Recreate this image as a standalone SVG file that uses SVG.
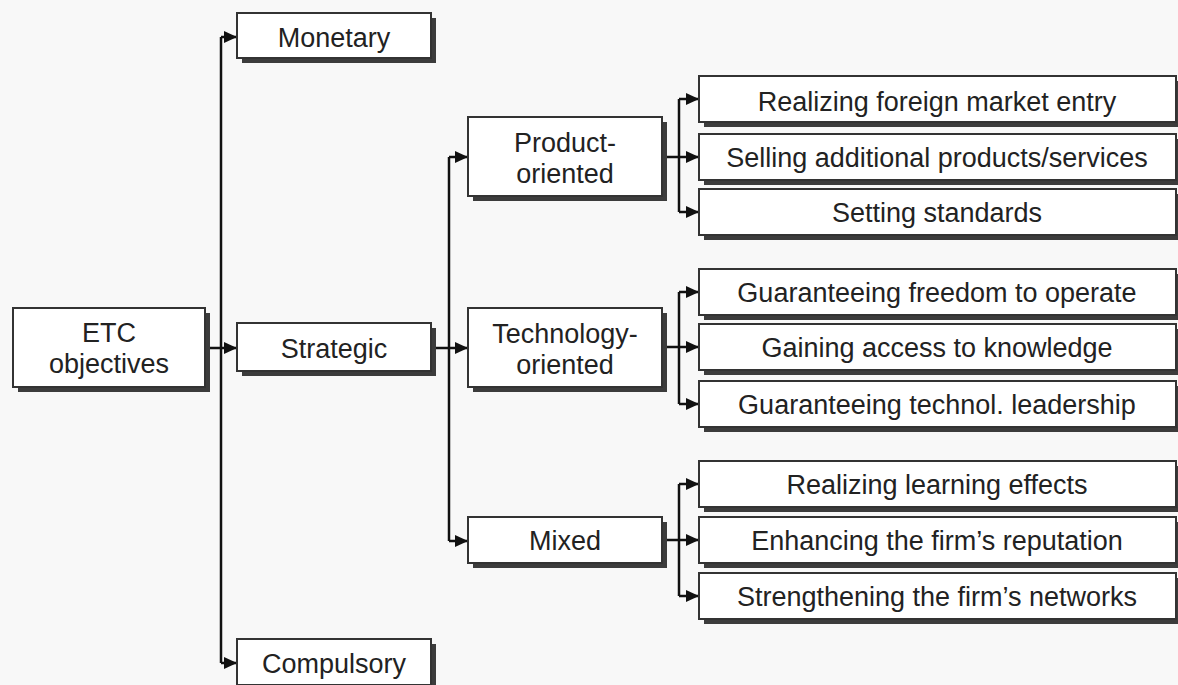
<svg xmlns="http://www.w3.org/2000/svg" width="1178" height="685" viewBox="0 0 1178 685">
<defs>
<marker id="ah" markerUnits="userSpaceOnUse" markerWidth="13" markerHeight="12" refX="13" refY="6" orient="auto">
<path d="M0,0 L13,6 L0,12 z" fill="#111"/>
</marker>
<style>
.bg{fill:#f8f8f8}
.sh{fill:#3c3c3c}
.bx{fill:#fff;stroke:#333;stroke-width:2}
.t{font-family:"Liberation Sans",Arial,sans-serif;font-size:27px;fill:#222;text-anchor:middle}
.c{fill:none;stroke:#111;stroke-width:2.5;stroke-linejoin:round}
.a{fill:none;stroke:#111;stroke-width:2.5;marker-end:url(#ah)}
</style>
</defs>
<rect class="bg" x="0" y="0" width="1178" height="685"/>

<g id="connectors">
<path class="c" d="M221,37 L221,663"/>
<line class="a" x1="205" y1="348" x2="237" y2="348"/>
<line class="a" x1="221" y1="37" x2="237" y2="37"/>
<line class="a" x1="221" y1="663" x2="237" y2="663"/>

<path class="c" d="M449,157 L449,541"/>
<line class="a" x1="431" y1="348" x2="468" y2="348"/>
<line class="a" x1="449" y1="157" x2="468" y2="157"/>
<line class="a" x1="449" y1="541" x2="468" y2="541"/>

<path class="c" d="M679,99 L679,212"/>
<line class="a" x1="662" y1="157" x2="699" y2="157"/>
<line class="a" x1="679" y1="99" x2="699" y2="99"/>
<line class="a" x1="679" y1="212" x2="699" y2="212"/>

<path class="c" d="M679,292 L679,404"/>
<line class="a" x1="662" y1="347" x2="699" y2="347"/>
<line class="a" x1="679" y1="292" x2="699" y2="292"/>
<line class="a" x1="679" y1="404" x2="699" y2="404"/>

<path class="c" d="M679,484 L679,596"/>
<line class="a" x1="662" y1="540" x2="699" y2="540"/>
<line class="a" x1="679" y1="484" x2="699" y2="484"/>
<line class="a" x1="679" y1="596" x2="699" y2="596"/>
</g>

<g id="etc">
<rect class="sh" x="18" y="313" width="192" height="79"/>
<rect class="bx" x="13" y="308" width="192" height="79"/>
<text class="t" x="109" y="342">ETC</text>
<text class="t" x="109" y="373">objectives</text>
</g>

<g id="monetary">
<rect class="sh" x="242" y="18" width="194" height="45"/>
<rect class="bx" x="237" y="13" width="194" height="45"/>
<text class="t" x="334" y="47">Monetary</text>
</g>

<g id="strategic">
<rect class="sh" x="242" y="328" width="194" height="48"/>
<rect class="bx" x="237" y="323" width="194" height="48"/>
<text class="t" x="334" y="358">Strategic</text>
</g>

<g id="compulsory">
<rect class="sh" x="242" y="644" width="194" height="46"/>
<rect class="bx" x="237" y="639" width="194" height="46"/>
<text class="t" x="334" y="673">Compulsory</text>
</g>

<g id="product">
<rect class="sh" x="473" y="122" width="194" height="79"/>
<rect class="bx" x="468" y="117" width="194" height="79"/>
<text class="t" x="565" y="152">Product-</text>
<text class="t" x="565" y="183">oriented</text>
</g>

<g id="technology">
<rect class="sh" x="473" y="313" width="194" height="79"/>
<rect class="bx" x="468" y="308" width="194" height="79"/>
<text class="t" x="565" y="343">Technology-</text>
<text class="t" x="565" y="374">oriented</text>
</g>

<g id="mixed">
<rect class="sh" x="473" y="522" width="194" height="46"/>
<rect class="bx" x="468" y="517" width="194" height="46"/>
<text class="t" x="565" y="550">Mixed</text>
</g>

<g id="foreign">
<rect class="sh" x="704" y="81" width="477" height="46"/>
<rect class="bx" x="699" y="76" width="477" height="46"/>
<text class="t" x="937" y="111">Realizing foreign market entry</text>
</g>
<g id="selling">
<rect class="sh" x="704" y="139" width="477" height="46"/>
<rect class="bx" x="699" y="134" width="477" height="46"/>
<text class="t" x="937" y="167">Selling additional products/services</text>
</g>
<g id="standards">
<rect class="sh" x="704" y="194" width="477" height="46"/>
<rect class="bx" x="699" y="189" width="477" height="46"/>
<text class="t" x="937" y="222">Setting standards</text>
</g>

<g id="freedom">
<rect class="sh" x="704" y="274" width="477" height="46"/>
<rect class="bx" x="699" y="269" width="477" height="46"/>
<text class="t" x="937" y="302">Guaranteeing freedom to operate</text>
</g>
<g id="knowledge">
<rect class="sh" x="704" y="329" width="477" height="46"/>
<rect class="bx" x="699" y="324" width="477" height="46"/>
<text class="t" x="937" y="357">Gaining access to knowledge</text>
</g>
<g id="leadership">
<rect class="sh" x="704" y="386" width="477" height="46"/>
<rect class="bx" x="699" y="381" width="477" height="46"/>
<text class="t" x="937" y="414">Guaranteeing technol. leadership</text>
</g>

<g id="learning">
<rect class="sh" x="704" y="466" width="477" height="46"/>
<rect class="bx" x="699" y="461" width="477" height="46"/>
<text class="t" x="937" y="494">Realizing learning effects</text>
</g>
<g id="reputation">
<rect class="sh" x="704" y="522" width="477" height="46"/>
<rect class="bx" x="699" y="517" width="477" height="46"/>
<text class="t" x="937" y="550">Enhancing the firm’s reputation</text>
</g>
<g id="networks">
<rect class="sh" x="704" y="578" width="477" height="46"/>
<rect class="bx" x="699" y="573" width="477" height="46"/>
<text class="t" x="937" y="606">Strengthening the firm’s networks</text>
</g>
</svg>
